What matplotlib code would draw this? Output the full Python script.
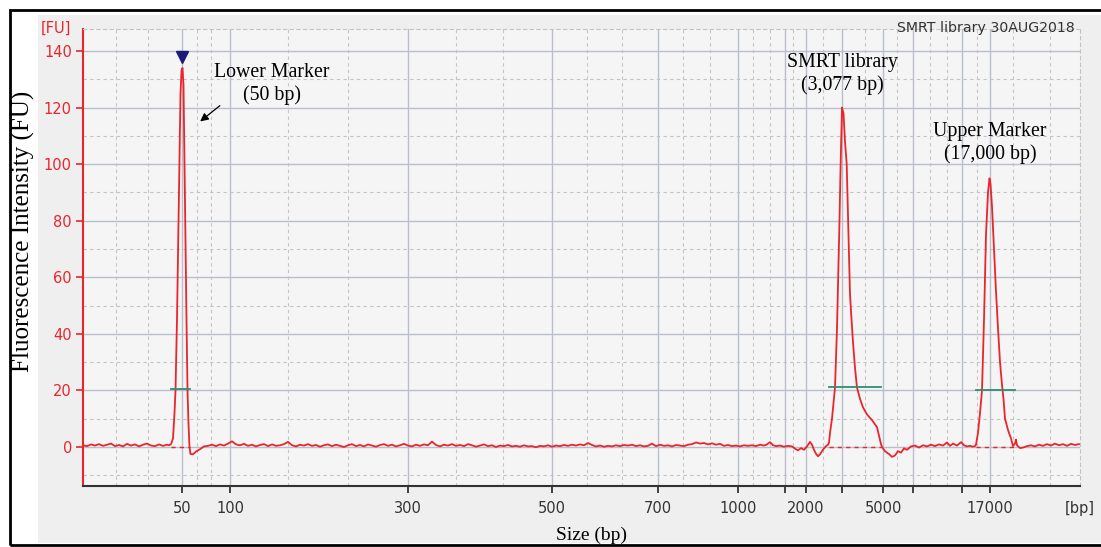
import matplotlib
matplotlib.use("Agg")
import matplotlib.pyplot as plt
from matplotlib.patches import Rectangle

# ---------------- data (migration position in arbitrary units, fluorescence in FU) -------------
trace_pos = [
    0, 4, 8, 12, 16, 20, 24, 28, 32, 36, 40, 44, 48, 52, 56, 60, 64, 68, 72, 76, 80, 84, 86,
    88, 90, 91.5, 92.5, 94, 95.5, 96.5, 97.5, 98.5, 99.5, 100.5, 101.5, 102.5, 103.5, 104.5,
    105.5, 106.5, 107.5, 110, 113, 117, 121,
    125, 129, 133, 137, 141, 145, 149, 153, 157, 161, 165, 169, 173, 177, 181, 185, 189, 193,
    197, 201, 205, 209, 213, 217, 221, 225, 229, 233, 237, 241, 245, 249, 253, 257, 261, 265,
    269, 273, 277, 281, 285, 289, 293, 297, 301, 305, 309, 313, 317, 321, 325, 329, 333, 337,
    341, 345, 349, 353, 357, 361, 365, 369, 373, 377, 381, 385, 389, 393, 397, 401, 405, 409,
    413, 417, 421, 425, 429, 433, 437, 441, 445, 449, 453, 457, 461, 465, 469, 473, 477, 481,
    485, 489, 493, 497, 501, 505, 509, 513, 517, 521, 525, 529, 533, 537, 541, 545, 549, 553,
    557, 561, 565, 569, 573, 577, 581, 585, 589, 593, 597, 601, 605, 609, 613, 617, 621, 625,
    629, 633, 637, 641, 645, 649, 653, 657, 661, 665,
    669, 673, 677, 681, 684, 687, 690, 693, 697, 701, 705, 709, 712, 715, 718, 721, 724, 727,
    729, 731, 733, 735, 737, 739, 741, 743, 745,
    746, 747, 749, 752, 754, 756.3, 757.7, 759, 760.5, 762, 763.7, 765.3, 767, 768, 770, 772,
    774, 777, 780, 784, 789, 792, 794, 796, 798, 799, 802, 806, 809, 812, 815, 818, 821, 824, 828,
    832, 836, 840, 844, 848, 852, 856, 860, 864, 867, 870, 874, 878, 881, 884, 887, 890, 892,
    893, 895, 897, 899, 901, 903, 905, 906.5, 907.5, 909, 911, 913, 915, 917, 919, 920.5, 922,
    925, 928, 930, 932, 933, 934, 937, 940,
    944, 948, 952, 956, 960, 964, 968, 972, 976, 980, 984, 988, 992, 996,
]
trace_fu = [
    0.6, 0.3, 0.9, 0.5, 1.0, 0.4, 0.8, 1.2, 0.3, 0.7, 0.2, 1.1, 0.5, 0.9, 0.2, 0.8, 1.2, 0.5,
    0.3, 0.9, 0.4, 0.8, 0.6,
    1.0, 3, 12, 20, 45, 80, 105, 125, 133, 134, 128, 100, 75, 45, 20,
    8, 0, -2.5, -2.6, -1.6, -0.8, 0.2,
    0.4, 0.8, 0.3, 0.9, 0.5, 1.2, 2.0, 0.9, 0.6, 1.1, 0.4, 0.8, 0.2, 0.7, 1.0, 0.3, 0.9, 0.4,
    0.6, 1.0, 1.8, 0.6, 0.2, 0.8, 0.5, 1.0, 0.4, 0.7, 0.1, 0.6, 0.9, 0.3, 0.8, 0.4, 0.0, 0.6,
    1.0, 0.3, 0.7, 0.2, 0.9, 0.5, 0.1, 0.7, 1.0, 0.4, 0.8, 0.2, 0.6, 1.1, 0.5, 0.2, 0.8, 0.4,
    0.9, 0.6, 1.9, 0.7, 0.2, 0.8, 0.5, 1.0, 0.4, 0.7, 0.3, 1.0, 0.6, 0.1, 0.5, 0.9, 0.3, 0.6,
    0.0, 0.5, 0.3, 0.7, 0.2, 0.4, 0.1, 0.6, 0.2, 0.3, -0.1, 0.4, 0.2, 0.6, 0.1, 0.5, 0.3, 0.7,
    0.4, 0.8, 0.5, 0.9, 0.6, 1.4, 0.7, 0.2, 0.5, 0.1, 0.4, 0.2, 0.6, 0.3, 0.7, 0.5, 0.8, 0.3,
    0.6, 0.2, 0.4, 1.2, 0.3, 0.8, 0.4, 0.6, 0.2, 0.7, 0.5, 0.3, 0.8, 1.0, 1.6, 1.2, 1.4, 0.9,
    1.3, 0.8, 1.1, 0.4, 0.7, 0.3, 0.5, 0.2, 0.6, 0.4,
    0.6, 0.3, 0.8, 0.5, 0.9, 1.7, 0.6, 0.3, 0.5, 0.1, 0.4, 0.2, -0.6, -1.2, -0.4, -1.0, 0.2, 1.8,
    0.8, -1.0, -2.4, -3.3, -2.6, -1.5, -0.5, 0.3, 0.8,
    1.5, 5, 10, 21, 42, 77, 101, 120, 118, 108, 100, 77, 54, 48, 37, 28,
    21, 17, 14, 11.5, 9.5, 8, 7, 4, 1, 0, -1.5, -2.5, -3.5, -3.0, -1.5, -2.0, -0.5, -1.0, 0.2,
    0.5, -0.2, 0.6, 0.2, 0.8, 0.3, 0.9, 0.5, 1.6, 0.4, 1.2, 0.5, 1.7, 0.6, 0.2, 0.4, 0.1, 0.3,
    0.8, 5, 12, 20, 45, 75, 90, 95, 93, 85, 70, 55, 42, 30, 22, 17, 10,
    6, 3, 0.3, 1.2, 2.6, 0.6, -0.4, -0.2,
    0.3, 0.6, 0.2, 0.8, 0.4, 1.0, 0.5, 1.2, 0.6, 1.0, 0.4, 1.1, 0.7, 1.0,
]

# peak integration regions: start, end, level (FU)
peak_start = [88, 746, 893]
peak_end = [107, 798, 932]
peak_level = [20.5, 21.3, 20.2]

# size ladder ticks
tick_pos = [99, 147, 325, 469, 575, 655, 702, 723, 759, 800, 830, 879, 907]
tick_labels = ["50", "100", "300", "500", "700", "1000", "", "2000", "", "5000", "", "", "17000"]
minor_grid_pos = [33, 65, 114, 128, 205, 265, 373, 420, 504, 539, 600, 627, 670, 687, 710,
                  740, 782, 814, 847, 864, 894, 930, 967]
y_major = [0, 20, 40, 60, 80, 100, 120, 140]
y_minor = [-10, 10, 30, 50, 70, 90, 110, 130]

marker_pos, marker_fu = 99, 137.8

annotations = [
    ("Lower Marker\n(50 bp)", 189, 128.5),
    ("SMRT library\n(3,077 bp)", 759, 132.0),
    ("Upper Marker\n(17,000 bp)", 907, 107.5),
]

# ---------------- figure ----------------
W, H = 1101, 547
fig = plt.figure(figsize=(W / 100, H / 100), dpi=100)
fig.patch.set_facecolor("white")

fig.patches.append(Rectangle((38 / W, 1 - 543 / H), (W - 38) / W, (543 - 15) / H,
                             transform=fig.transFigure, facecolor="#efefef",
                             edgecolor="none", zorder=-2))
fig.patches.append(Rectangle((10 / W, 1 - 545 / H), (W + 20 - 10) / W, (545 - 10) / H,
                             transform=fig.transFigure, facecolor="none",
                             edgecolor="black", lw=2, zorder=10, clip_on=False))

ax = fig.add_axes([83 / W, 1 - 486 / H, (1080 - 83) / W, (486 - 29) / H])
ax.set_zorder(5)
ax.set_facecolor("#f5f5f5")
ax.set_xlim(0, 997)
ax.set_ylim(-13.8, 147.8)

red = "#e8262d"
solid_grid = "#b9bdcc"
dash_grid = "#c4c4c4"

for yv in y_major:
    ax.axhline(yv, color=solid_grid, lw=1.0, zorder=1)
for yv in y_minor:
    ax.axhline(yv, color=dash_grid, lw=0.8, ls=(0, (3, 3)), zorder=1)
for xv in tick_pos:
    ax.axvline(xv, color=solid_grid, lw=1.0, zorder=1)
for xv in minor_grid_pos:
    ax.axvline(xv, color=dash_grid, lw=0.8, ls=(0, (3, 3)), zorder=1)

# baseline dashes and integration bars
for s, e, lv in zip(peak_start, peak_end, peak_level):
    ax.plot([s, e], [0, 0], color=red, lw=1.0, ls=(0, (3, 3)), zorder=2)
    ax.plot([s, e], [lv, lv], color="#2f8f72", lw=1.3, zorder=4)

ax.plot(trace_pos, trace_fu, color=red, lw=1.3, zorder=3)
ax.plot([marker_pos], [marker_fu], marker="v", color="#1c1c78", markersize=9, zorder=5,
        clip_on=False)

for txt, xp, yp in annotations:
    ax.text(xp, yp, txt, ha="center", va="center", fontsize=14.3,
            family="Liberation Serif", linespacing=1.22, zorder=6)

ax.annotate("", xy=(115, 114.5), xytext=(139, 121.3),
            arrowprops=dict(arrowstyle="-|>", color="black", lw=0.9, mutation_scale=12),
            zorder=6)

# spines
ax.spines["left"].set_color(red)
ax.spines["left"].set_linewidth(1.5)
ax.spines["bottom"].set_color("#333333")
ax.spines["bottom"].set_linewidth(1.5)
for side in ("top", "right"):
    ax.spines[side].set_color(dash_grid)
    ax.spines[side].set_linestyle((0, (3, 3)))
    ax.spines[side].set_linewidth(0.8)

ax.set_xticks(tick_pos)
ax.set_xticklabels(tick_labels, fontsize=10.5, color="#333333", family="DejaVu Sans")
ax.tick_params(axis="x", length=5, width=1.3, color="#333333", pad=5.5)
ax.set_yticks(y_major)
ax.set_yticklabels([str(v) for v in y_major], fontsize=10.5, color=red, family="DejaVu Sans")
ax.tick_params(axis="y", length=5, width=1.2, color=red, pad=3)

fig.text(56 / W, 1 - 28 / H, "[FU]", color=red, fontsize=10.5, ha="center", va="center",
         family="DejaVu Sans", zorder=20)
fig.text(1080 / W, 1 - 508 / H, "[bp]", color="#333333", fontsize=10.5, ha="center",
         va="center", family="DejaVu Sans", zorder=20)
fig.text(1075 / W, 1 - 28 / H, "SMRT library 30AUG2018", color="#333333", fontsize=10.2,
         ha="right", va="center", family="DejaVu Sans", zorder=20)

fig.text(23 / W, 1 - 231 / H, "Fluorescence Intensity (FU)", rotation=90, fontsize=18,
         ha="center", va="center", family="Liberation Serif", zorder=20)
fig.text(592 / W, 1 - 535 / H, "Size (bp)", fontsize=14, ha="center", va="center",
         family="Liberation Serif", zorder=20)

fig.savefig("out.png", dpi=100)
